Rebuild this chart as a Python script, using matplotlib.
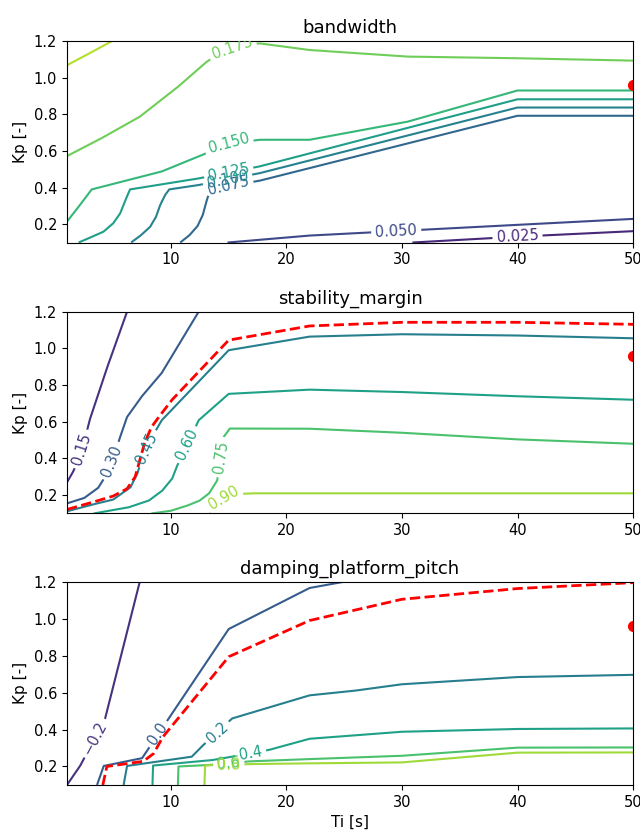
import numpy as np
import matplotlib
matplotlib.use("Agg")
import matplotlib.pyplot as plt
from matplotlib.contour import ContourSet
from matplotlib.colors import Normalize

# ---------------- data: contour lines (Ti [s], Kp [-]) ----------------
# bandwidth
bw_levels = [0.025, 0.050, 0.075, 0.100, 0.125, 0.150, 0.175, 0.200]
bw_025_ti = [30.9, 40.0, 50.0]
bw_025_kp = [0.100, 0.132, 0.162]
bw_050_ti = [14.9, 22.0, 50.0]
bw_050_kp = [0.100, 0.138, 0.229]
bw_075_ti = [10.8, 11.6, 12.3, 12.75, 13.1, 13.3, 13.45, 17.7, 40.0, 50.0]
bw_075_kp = [0.100, 0.140, 0.190, 0.250, 0.330, 0.370, 0.390, 0.438, 0.792, 0.792]
bw_100_ti = [6.55, 7.4, 8.2, 8.7, 9.07, 9.5, 9.85, 12.4, 17.7, 40.0, 50.0]
bw_100_kp = [0.100, 0.140, 0.186, 0.240, 0.305, 0.360, 0.390, 0.414, 0.479, 0.837, 0.837]
bw_125_ti = [2.0, 3.0, 4.15, 5.0, 5.6, 6.18, 6.46, 12.4, 17.7, 40.0, 50.0]
bw_125_kp = [0.100, 0.127, 0.159, 0.205, 0.259, 0.350, 0.390, 0.450, 0.516, 0.882, 0.882]
bw_150_ti = [1.0, 1.5, 2.0, 2.6, 3.14, 9.2, 12.7, 15.0, 17.7, 22.0, 30.5, 40.0, 50.0]
bw_150_kp = [0.214, 0.255, 0.295, 0.345, 0.390, 0.488, 0.578, 0.640, 0.661, 0.661, 0.760, 0.930, 0.930]
bw_175_ti = [1.0, 4.0, 7.3, 10.6, 13.1, 14.5, 16.0, 17.7, 22.0, 30.5, 40.0, 50.0]
bw_175_kp = [0.572, 0.670, 0.787, 0.950, 1.087, 1.145, 1.180, 1.187, 1.151, 1.115, 1.106, 1.093]
bw_200_ti = [1.0, 3.0, 4.9]
bw_200_kp = [1.068, 1.135, 1.200]

# stability_margin
sm_levels = [0.15, 0.30, 0.45, 0.60, 0.75, 0.90]
sm_015_ti = [1.0, 1.5, 1.84, 2.3, 2.6, 3.0, 4.5, 6.2]
sm_015_kp = [0.270, 0.325, 0.370, 0.450, 0.520, 0.617, 0.900, 1.200]
sm_030_ti = [1.0, 2.5, 3.7, 4.3, 5.0, 5.6, 6.2, 7.5, 9.2, 12.4]
sm_030_kp = [0.155, 0.185, 0.240, 0.300, 0.400, 0.517, 0.626, 0.740, 0.866, 1.200]
sm_045_ti = [1.0, 3.3, 5.0, 6.5, 7.1, 7.5, 8.3, 9.2, 15.0, 22.0, 30.0, 40.0, 50.0]
sm_045_kp = [0.112, 0.150, 0.176, 0.243, 0.320, 0.400, 0.510, 0.608, 0.990, 1.064, 1.077, 1.070, 1.055]
sm_060_ti = [3.3, 6.35, 8.1, 9.25, 10.1, 10.55, 12.4, 15.0, 22.0, 30.0, 40.0, 50.0]
sm_060_kp = [0.100, 0.134, 0.171, 0.225, 0.290, 0.362, 0.608, 0.752, 0.775, 0.762, 0.739, 0.720]
sm_075_ti = [8.3, 10.0, 11.5, 12.5, 13.3, 14.0, 14.56, 15.1, 22.0, 30.0, 40.0, 50.0]
sm_075_kp = [0.100, 0.115, 0.145, 0.171, 0.210, 0.280, 0.517, 0.563, 0.562, 0.540, 0.504, 0.480]
sm_090_ti = [13.4, 13.9, 15.0, 17.3, 50.0]
sm_090_kp = [0.100, 0.150, 0.205, 0.210, 0.210]
sm_limit_ti = [1.0, 3.3, 5.0, 6.2, 6.9, 7.3, 7.7, 8.3, 9.0, 10.1, 15.0, 22.0, 30.0, 40.0, 50.0]
sm_limit_kp = [0.122, 0.163, 0.195, 0.235, 0.300, 0.390, 0.480, 0.570, 0.630, 0.720, 1.045, 1.122, 1.142, 1.142, 1.131]

# damping_platform_pitch
dp_levels = [-0.2, 0.0, 0.2, 0.4, 0.6, 0.8]
dp_m02_ti = [1.0, 2.15, 4.3, 7.3]
dp_m02_kp = [0.100, 0.205, 0.460, 1.200]
dp_000_ti = [3.6, 4.18, 7.5, 15.0, 22.0, 25.0]
dp_000_kp = [0.100, 0.203, 0.245, 0.944, 1.166, 1.200]
dp_020_ti = [5.9, 6.2, 11.8, 12.8, 15.3, 22.0, 26.0, 30.0, 40.0, 50.0]
dp_020_kp = [0.100, 0.203, 0.253, 0.316, 0.460, 0.585, 0.611, 0.645, 0.684, 0.696]
dp_040_ti = [8.4, 8.45, 13.6, 15.0, 18.5, 22.0, 30.0, 40.0, 50.0]
dp_040_kp = [0.100, 0.205, 0.235, 0.250, 0.290, 0.350, 0.388, 0.403, 0.406]
dp_060_ti = [10.6, 10.65, 13.25, 15.0, 16.9, 22.0, 30.0, 40.0, 50.0]
dp_060_kp = [0.100, 0.200, 0.208, 0.218, 0.228, 0.240, 0.258, 0.302, 0.303]
dp_080_ti = [12.9, 12.95, 13.5, 16.9, 22.0, 30.0, 40.0, 50.0]
dp_080_kp = [0.100, 0.205, 0.207, 0.213, 0.217, 0.222, 0.275, 0.276]
dp_limit_ti = [4.1, 4.45, 7.6, 8.5, 9.3, 15.0, 22.0, 30.0, 40.0, 50.0]
dp_limit_kp = [0.100, 0.200, 0.228, 0.270, 0.360, 0.794, 0.990, 1.105, 1.163, 1.195]

# operating point
op_ti = [50.0]
op_kp = [0.96]

# ---------------- figure ----------------
fig = plt.figure(figsize=(6.4, 8.34), dpi=100)
axes_rects = [
    [0.1047, 0.7092, 0.8844, 0.2416],
    [0.1047, 0.3843, 0.8844, 0.2420],
    [0.1047, 0.0588, 0.8844, 0.2437],
]


def fmt_minus(v):
    return f"{v:.1f}".replace("-", "\u2212")


panels = [
    dict(title="bandwidth", levels=bw_levels,
         lines=[(bw_025_ti, bw_025_kp), (bw_050_ti, bw_050_kp), (bw_075_ti, bw_075_kp),
                (bw_100_ti, bw_100_kp), (bw_125_ti, bw_125_kp), (bw_150_ti, bw_150_kp),
                (bw_175_ti, bw_175_kp), (bw_200_ti, bw_200_kp)],
         norm=Normalize(0.0, 0.225), fmt="%1.3f",
         labels=[(40.0, 0.132), (29.5, 0.162), (15.0, 0.408), (14.9, 0.445),
                 (15.0, 0.482), (15.0, 0.640), (15.3, 1.164)],
         limit=None),
    dict(title="stability_margin", levels=sm_levels,
         lines=[(sm_015_ti, sm_015_kp), (sm_030_ti, sm_030_kp), (sm_045_ti, sm_045_kp),
                (sm_060_ti, sm_060_kp), (sm_075_ti, sm_075_kp), (sm_090_ti, sm_090_kp)],
         norm=Normalize(0.0, 1.05), fmt="%1.2f",
         labels=[(2.3, 0.45), (4.9, 0.386), (7.9, 0.455), (11.4, 0.475),
                 (14.3, 0.407), (14.6, 0.185)],
         limit=(sm_limit_ti, sm_limit_kp)),
    dict(title="damping_platform_pitch", levels=dp_levels,
         lines=[(dp_m02_ti, dp_m02_kp), (dp_000_ti, dp_000_kp), (dp_020_ti, dp_020_kp),
                (dp_040_ti, dp_040_kp), (dp_060_ti, dp_060_kp), (dp_080_ti, dp_080_kp)],
         norm=Normalize(-0.4, 1.0), fmt=fmt_minus,
         labels=[(3.4, 0.353), (8.9, 0.375), (14.0, 0.385), (16.9, 0.272),
                 (15.0, 0.218), (15.0, 0.2097)],
         limit=(dp_limit_ti, dp_limit_kp)),
]

for i, (rect, p) in enumerate(zip(axes_rects, panels)):
    ax = fig.add_axes(rect)
    allsegs = [[np.column_stack([ti, kp])] for ti, kp in p["lines"]]
    cs = ContourSet(ax, p["levels"], allsegs, cmap="viridis", norm=p["norm"],
                    linewidths=1.5)
    ax.clabel(cs, manual=p["labels"], inline=True, fmt=p["fmt"],
              fontsize=10.5, inline_spacing=4)
    if p["limit"] is not None:
        ax.plot(p["limit"][0], p["limit"][1], color="red", linestyle="--", linewidth=2)
    ax.plot(op_ti, op_kp, "o", color="red", markersize=7)
    ax.set_xlim(1, 50)
    ax.set_ylim(0.1, 1.2)
    ax.set_xticks([10, 20, 30, 40, 50])
    ax.set_yticks([0.2, 0.4, 0.6, 0.8, 1.0, 1.2])
    ax.tick_params(labelsize=10.5)
    ax.set_title(p["title"], fontsize=13)
    ax.set_ylabel("Kp [-]", fontsize=11)
    if i == 2:
        ax.set_xlabel("Ti [s]", fontsize=11)

fig.savefig("out.png", dpi=100)
